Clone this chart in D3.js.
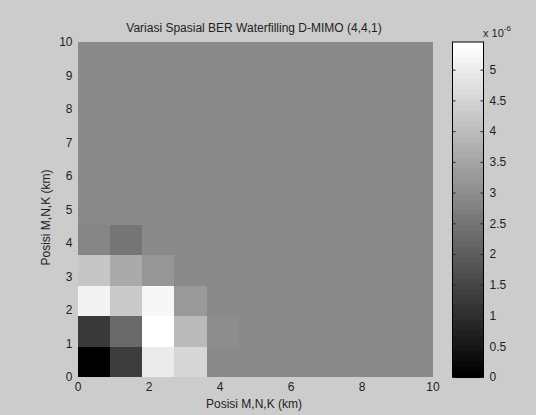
<!DOCTYPE html>
<html>
<head>
<meta charset="utf-8">
<script src="https://cdn.jsdelivr.net/npm/d3@7"></script>
<style>
html,body{margin:0;padding:0;background:#cccccc;}
svg{display:block;}
text{font-family:"Liberation Sans",Arial,sans-serif;}
</style>
</head>
<body>
<svg id="c" width="536" height="415"></svg>
<script>
// BER values (x 1e-6), rows from y=0 (bottom) upward, columns from x=0 (left)
const berRows = [
  [0.00, 1.28, 5.00, 4.53, 2.91, 2.91, 2.91, 2.91, 2.91, 2.91, 2.91],
  [1.24, 2.29, 5.45, 4.00, 2.99, 2.91, 2.91, 2.91, 2.91, 2.91, 2.91],
  [5.11, 4.30, 5.24, 3.31, 2.91, 2.91, 2.91, 2.91, 2.91, 2.91, 2.91],
  [4.23, 3.65, 3.16, 2.91, 2.91, 2.91, 2.91, 2.91, 2.91, 2.91, 2.91],
  [2.82, 2.54, 2.91, 2.91, 2.91, 2.91, 2.91, 2.91, 2.91, 2.91, 2.91],
  [2.91, 2.91, 2.91, 2.91, 2.91, 2.91, 2.91, 2.91, 2.91, 2.91, 2.91],
  [2.91, 2.91, 2.91, 2.91, 2.91, 2.91, 2.91, 2.91, 2.91, 2.91, 2.91],
  [2.91, 2.91, 2.91, 2.91, 2.91, 2.91, 2.91, 2.91, 2.91, 2.91, 2.91],
  [2.91, 2.91, 2.91, 2.91, 2.91, 2.91, 2.91, 2.91, 2.91, 2.91, 2.91],
  [2.91, 2.91, 2.91, 2.91, 2.91, 2.91, 2.91, 2.91, 2.91, 2.91, 2.91],
  [2.91, 2.91, 2.91, 2.91, 2.91, 2.91, 2.91, 2.91, 2.91, 2.91, 2.91]
];
const axisTicks = [0, 2, 4, 6, 8, 10];
const yAxisTicks = [0, 1, 2, 3, 4, 5, 6, 7, 8, 9, 10];
const cbarTicks = [0, 0.5, 1, 1.5, 2, 2.5, 3, 3.5, 4, 4.5, 5];
const cLimits = [0, 5.45];
const titleText = "Variasi Spasial BER Waterfilling D-MIMO (4,4,1)";
const xLabel = "Posisi M,N,K (km)";
const yLabel = "Posisi M,N,K (km)";

const svg = d3.select("#c");
const L = 77.5, R = 432.5, T = 42, B = 377;
const x = d3.scaleLinear().domain([0, 10]).range([L, R]);
const y = d3.scaleLinear().domain([0, 10]).range([B, T]);
const nLevels = 64;
const grayOf = v => {
  const t = Math.max(0, Math.min(1, (v - cLimits[0]) / (cLimits[1] - cLimits[0])));
  const lvl = Math.min(nLevels - 1, Math.floor(t * nLevels));
  const g = Math.round(lvl / (nLevels - 1) * 255);
  return `rgb(${g},${g},${g})`;
};

const n = berRows.length;
const step = 10 / n;
const cells = [];
berRows.forEach((row, r) => row.forEach((v, c) => cells.push({r, c, v})));

svg.append("g").selectAll("rect").data(cells).join("rect")
  .attr("x", d => x(d.c * step))
  .attr("y", d => y((d.r + 1) * step))
  .attr("width", d => x((d.c + 1) * step) - x(d.c * step) + 0.3)
  .attr("height", d => y(d.r * step) - y((d.r + 1) * step) + 0.3)
  .attr("fill", d => grayOf(d.v))
  .attr("shape-rendering", "crispEdges");

// axes
const xa = svg.append("g").attr("transform", `translate(0,${B})`)
  .call(d3.axisBottom(x).tickValues(axisTicks).tickSize(0).tickPadding(5).tickFormat(d => String(d)));
xa.select(".domain").remove();
xa.selectAll("text").attr("font-size", 12).attr("fill", "#222").attr("font-family", "Liberation Sans, Arial, sans-serif");

const ya = svg.append("g").attr("transform", `translate(${L},0)`)
  .call(d3.axisLeft(y).tickValues(yAxisTicks).tickSize(0).tickPadding(5).tickFormat(d => String(d)));
ya.select(".domain").remove();
ya.selectAll("text").attr("font-size", 12).attr("fill", "#222").attr("font-family", "Liberation Sans, Arial, sans-serif");

svg.append("text").attr("x", 254).attr("y", 32).attr("text-anchor", "middle")
  .attr("font-size", 12).attr("fill", "#222").text(titleText);
svg.append("text").attr("x", 254).attr("y", 408).attr("text-anchor", "middle")
  .attr("font-size", 12).attr("fill", "#222").text(xLabel);
svg.append("text").attr("transform", `translate(50,${(T + B) / 2 + 8}) rotate(-90)`).attr("text-anchor", "middle")
  .attr("font-size", 12).attr("fill", "#222").text(yLabel);

// colorbar
const CL = 452.5, CR = 483.5;
const yc = d3.scaleLinear().domain(cLimits).range([B, T]);
const levels = d3.range(nLevels);
svg.append("g").selectAll("rect").data(levels).join("rect")
  .attr("x", CL)
  .attr("width", CR - CL)
  .attr("y", d => yc(cLimits[0] + (d + 1) / nLevels * (cLimits[1] - cLimits[0])))
  .attr("height", (B - T) / nLevels + 0.5)
  .attr("fill", d => { const g = Math.round(d / (nLevels - 1) * 255); return `rgb(${g},${g},${g})`; })
  .attr("shape-rendering", "crispEdges");
svg.append("rect").attr("x", CL).attr("y", T).attr("width", CR - CL).attr("height", B - T)
  .attr("fill", "none").attr("stroke", "#000").attr("stroke-width", 1);

const cax = svg.append("g").attr("transform", `translate(${CR},0)`)
  .call(d3.axisRight(yc).tickValues(cbarTicks).tickSize(-3).tickPadding(6).tickFormat(d => String(d)));
cax.select(".domain").remove();
cax.selectAll("line").attr("stroke", "#222");
cax.selectAll("text").attr("font-size", 12).attr("fill", "#222").attr("font-family", "Liberation Sans, Arial, sans-serif");
const cal = svg.append("g").attr("transform", `translate(${CL},0)`)
  .call(d3.axisLeft(yc).tickValues(cbarTicks).tickSize(-3).tickFormat(""));
cal.select(".domain").remove();
cal.selectAll("line").attr("stroke", "#222");

const ex = svg.append("text").attr("x", 483).attr("y", 37).attr("font-size", 11).attr("fill", "#222");
ex.append("tspan").text("x 10");
ex.append("tspan").attr("dy", -6).attr("font-size", 8).text("-6");
</script>
</body>
</html>
